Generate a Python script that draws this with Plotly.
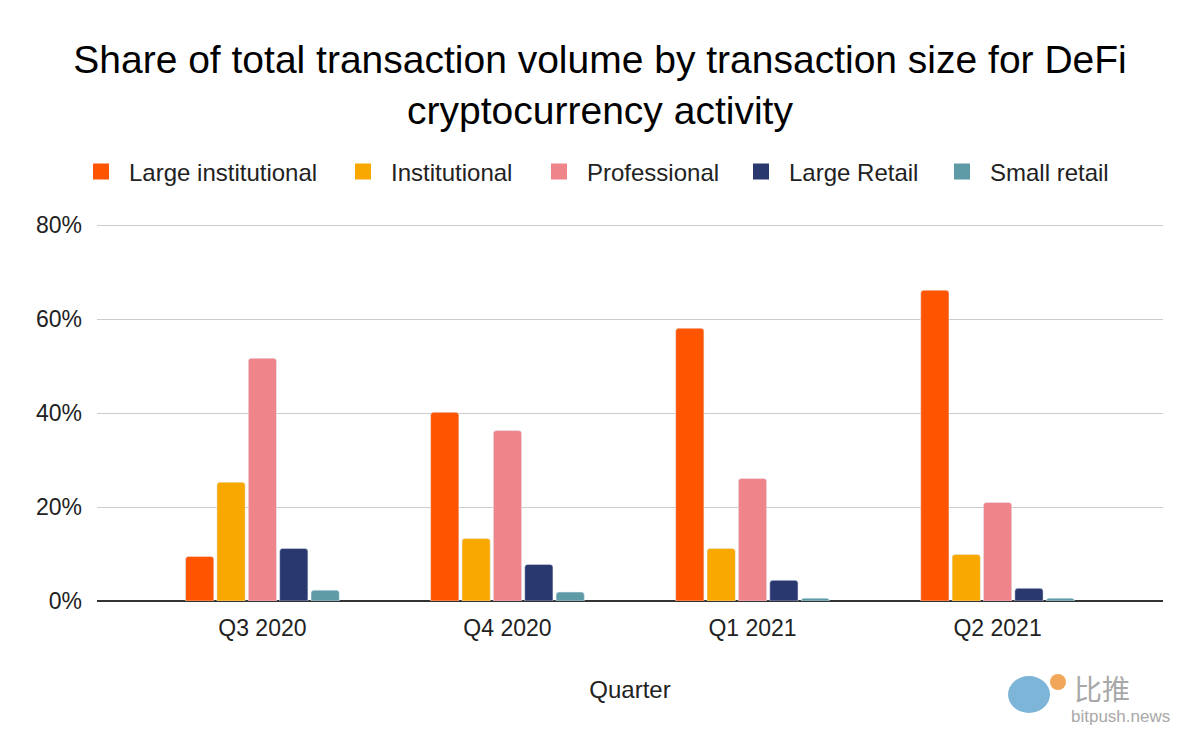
import plotly.graph_objects as go

quarters = ["Q3 2020", "Q4 2020", "Q1 2021", "Q2 2021"]
series_names = ["Large institutional", "Institutional", "Professional", "Large Retail", "Small retail"]
large_institutional = [9.5, 40.2, 58.1, 66.2]
institutional = [25.3, 13.3, 11.2, 9.9]
professional = [51.7, 36.3, 26.1, 21.0]
large_retail = [11.2, 7.8, 4.4, 2.7]
small_retail = [2.3, 1.9, 0.6, 0.6]
y_ticks = [0, 20, 40, 60, 80]
y_tick_labels = ["0%", "20%", "40%", "60%", "80%"]

colors = ["#FF5500", "#F9A800", "#F0848B", "#2A3870", "#5F9BA7"]
values = [large_institutional, institutional, professional, large_retail, small_retail]

FONT = "Liberation Sans, Arial, sans-serif"
W, H = 1200, 742
L, R, T, B = 97, 37, 224, 141

def px_x(p):
    return (p - L) / (W - L - R)

def px_y(p):
    return (H - B - p) / (H - T - B)

legend_names = ["legend", "legend2", "legend3", "legend4", "legend5"]
legend_left_px = [73, 335, 531, 733, 934]

fig = go.Figure()
for name, vals, col in zip(series_names, values, colors):
    fig.add_trace(go.Bar(x=quarters, y=vals, name=name, marker=dict(color=col, cornerradius=3),
                         showlegend=False, hovertemplate="%{x}: %{y}%<extra>" + name + "</extra>"))
for name, col, lg in zip(series_names, colors, legend_names):
    fig.add_trace(go.Scatter(x=[None], y=[None], mode="markers", name=name, legend=lg,
                             marker=dict(symbol="square", size=16, color=col), showlegend=True))

layout_legends = {}
for lg, lp in zip(legend_names, legend_left_px):
    layout_legends[lg] = dict(orientation="h", x=px_x(lp), xanchor="left", y=px_y(172), yanchor="middle",
                              font=dict(size=24, color="#222222", family=FONT), itemwidth=46,
                              bgcolor="rgba(0,0,0,0)")

fig.update_layout(
    width=W, height=H,
    paper_bgcolor="white", plot_bgcolor="white",
    margin=dict(l=L, r=R, t=T, b=B),
    font=dict(family=FONT, color="#222222"),
    title=dict(text="Share of total transaction volume by transaction size for DeFi<br>cryptocurrency activity",
               x=0.5, xanchor="center", y=1 - 73 / H, yanchor="middle", yref="container",
               font=dict(size=39, color="#000000", family=FONT)),
    barmode="group", bargap=0.36, bargroupgap=0.1,
    xaxis=dict(type="category", range=[-0.675, 3.675], showgrid=False, ticks="",
               tickfont=dict(size=23, color="#222222"), ticklabelstandoff=11,
               title=dict(text="Quarter", font=dict(size=24, color="#222222"), standoff=41),
               showline=False, zeroline=False),
    yaxis=dict(range=[0, 80.3], tickvals=y_ticks, ticktext=y_tick_labels,
               tickfont=dict(size=23, color="#222222"), gridcolor="#CCCCCC", gridwidth=1,
               zeroline=True, zerolinecolor="#333333", zerolinewidth=2, ticklabelstandoff=14,
               showline=False, fixedrange=True),
    **layout_legends,
)

# watermark (bitpush logo approximation)
fig.add_shape(type="circle", xref="paper", yref="paper",
              x0=px_x(1008), x1=px_x(1050), y0=px_y(713), y1=px_y(676),
              fillcolor="#7DB5D8", line=dict(width=0), layer="above")
fig.add_shape(type="circle", xref="paper", yref="paper",
              x0=px_x(1050), x1=px_x(1066), y0=px_y(690), y1=px_y(674),
              fillcolor="#F2A65A", line=dict(width=0), layer="above")
fig.add_annotation(text="比推", x=px_x(1072), y=px_y(688), xref="paper", yref="paper",
                   xanchor="left", yanchor="middle", showarrow=False,
                   font=dict(size=28, color="#A8A8A8", family="Noto Sans CJK SC"))
fig.add_annotation(text="bitpush.news", x=px_x(1069), y=px_y(716), xref="paper", yref="paper",
                   xanchor="left", yanchor="middle", showarrow=False,
                   font=dict(size=17, color="#A8A8A8", family=FONT))

fig.write_html("out.html", config={"displayModeBar": False},
               post_script="document.body.style.margin='0';")
